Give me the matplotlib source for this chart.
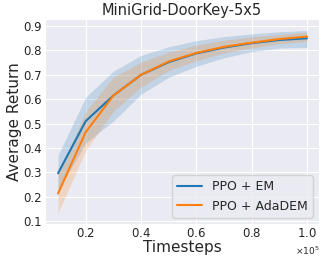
import matplotlib
matplotlib.use("Agg")
import matplotlib.pyplot as plt
import seaborn as sns
import numpy as np

sns.set_style("darkgrid")
plt.rcParams['font.family'] = ['DejaVu Sans']

timesteps = [10000, 20000, 30000, 40000, 50000, 60000, 70000, 80000, 90000, 100000]
em_mean = [0.296, 0.51, 0.615, 0.70, 0.752, 0.788, 0.812, 0.830, 0.843, 0.850]
em_upper = [0.370, 0.608, 0.715, 0.780, 0.815, 0.840, 0.857, 0.868, 0.877, 0.882]
em_lower = [0.225, 0.420, 0.510, 0.620, 0.690, 0.735, 0.770, 0.795, 0.810, 0.812]
ada_mean = [0.213, 0.465, 0.615, 0.700, 0.755, 0.790, 0.815, 0.832, 0.847, 0.857]
ada_upper = [0.290, 0.550, 0.690, 0.752, 0.792, 0.822, 0.842, 0.856, 0.866, 0.875]
ada_lower = [0.132, 0.390, 0.550, 0.650, 0.718, 0.758, 0.790, 0.810, 0.828, 0.838]

fig = plt.figure(figsize=(3.24, 2.61), dpi=100)
ax = fig.add_axes([0.139, 0.142, 0.846, 0.785])

c_em = "#1f77b4"
c_ada = "#ff7f0e"
ax.fill_between(timesteps, em_lower, em_upper, color=c_em, alpha=0.2, linewidth=0)
ax.fill_between(timesteps, ada_lower, ada_upper, color=c_ada, alpha=0.2, linewidth=0)
ax.plot(timesteps, em_mean, color=c_em, lw=1.5, label="PPO + EM")
ax.plot(timesteps, ada_mean, color=c_ada, lw=1.5, label="PPO + AdaDEM")

ax.set_xlim(5300, 104400)
ax.set_ylim(0.088, 0.929)
ax.set_yticks([0.1, 0.2, 0.3, 0.4, 0.5, 0.6, 0.7, 0.8, 0.9])
ax.set_xticks([20000, 40000, 60000, 80000, 100000])
ax.ticklabel_format(axis='x', style='sci', scilimits=(0, 0), useMathText=True)
ax.xaxis.get_offset_text().set_fontsize(6.5)
ax.tick_params(labelsize=8.5, pad=1, length=1.5, width=0.6, color='0.3', direction='out')
ax.set_title("MiniGrid-DoorKey-5x5", fontsize=10.5, pad=3)
ax.set_xlabel("Timesteps", fontsize=11, labelpad=0)
ax.set_ylabel("Average Return", fontsize=11, labelpad=1)
ax.legend(loc="lower right", fontsize=9, borderaxespad=0.5)

fig.savefig("out.png", dpi=100)
